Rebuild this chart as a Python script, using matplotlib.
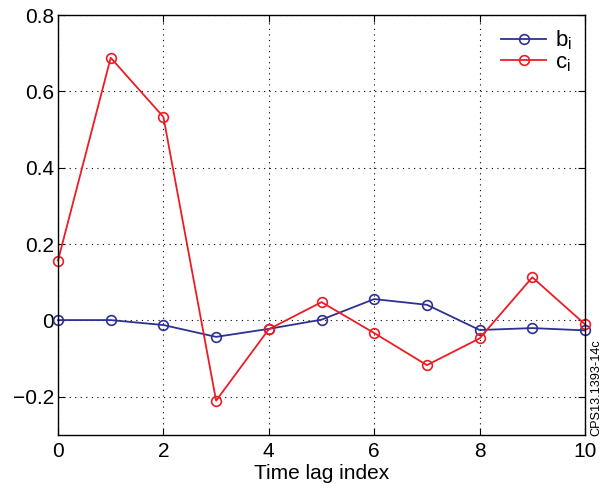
import matplotlib
matplotlib.use("Agg")
import matplotlib.pyplot as plt

lags = [0, 1, 2, 3, 4, 5, 6, 7, 8, 9, 10]
b_vals = [0.001, 0.001, -0.012, -0.043, -0.022, 0.002, 0.056, 0.041, -0.025, -0.020, -0.026]
c_vals = [0.157, 0.688, 0.533, -0.210, -0.023, 0.048, -0.033, -0.117, -0.047, 0.113, -0.010]
xticks = [0, 2, 4, 6, 8, 10]
yticks = [-0.2, 0, 0.2, 0.4, 0.6, 0.8]
ytick_labels = ["\u22120.2", "0", "0.2", "0.4", "0.6", "0.8"]

plt.rcParams['font.family'] = ['Liberation Sans', 'DejaVu Sans']

fig = plt.figure(figsize=(6.05, 4.88), dpi=100)
ax = fig.add_axes([58/605, 1 - 435/488, (585-58)/605, (435-15)/488])

ax.plot(lags, b_vals, '-o', color='#2e3192', mfc='none', mec='#2e3192', ms=7, mew=1.2, lw=1.3, label=r'b$_\mathregular{i}$', clip_on=False)
ax.plot(lags, c_vals, '-o', color='#ed1c24', mfc='none', mec='#ed1c24', ms=7, mew=1.2, lw=1.3, label=r'c$_\mathregular{i}$', clip_on=False)

ax.set_xlim(0, 10)
ax.set_ylim(-0.3, 0.8)
ax.set_xticks(xticks)
ax.set_yticks(yticks)
ax.set_yticklabels(ytick_labels)
ax.tick_params(direction='in', labelsize=15, length=5, top=True, right=True, pad=3)
ax.tick_params(axis='x', pad=5)
ax.grid(True, linestyle=(0, (1, 4)), color='black', linewidth=0.8)
for s in ax.spines.values():
    s.set_linewidth(1.0)
ax.set_xlabel('Time lag index', fontsize=15, labelpad=2)

leg = ax.legend(loc='upper right', frameon=False, fontsize=16, handlelength=2.0,
                borderaxespad=0.2, labelspacing=0.0, handletextpad=0.4)

fig.text(596/605, 1 - 388/488, 'CPS13.1393-14c', rotation=90, fontsize=9.2, ha='center', va='center')

fig.savefig('out.png', dpi=100)
